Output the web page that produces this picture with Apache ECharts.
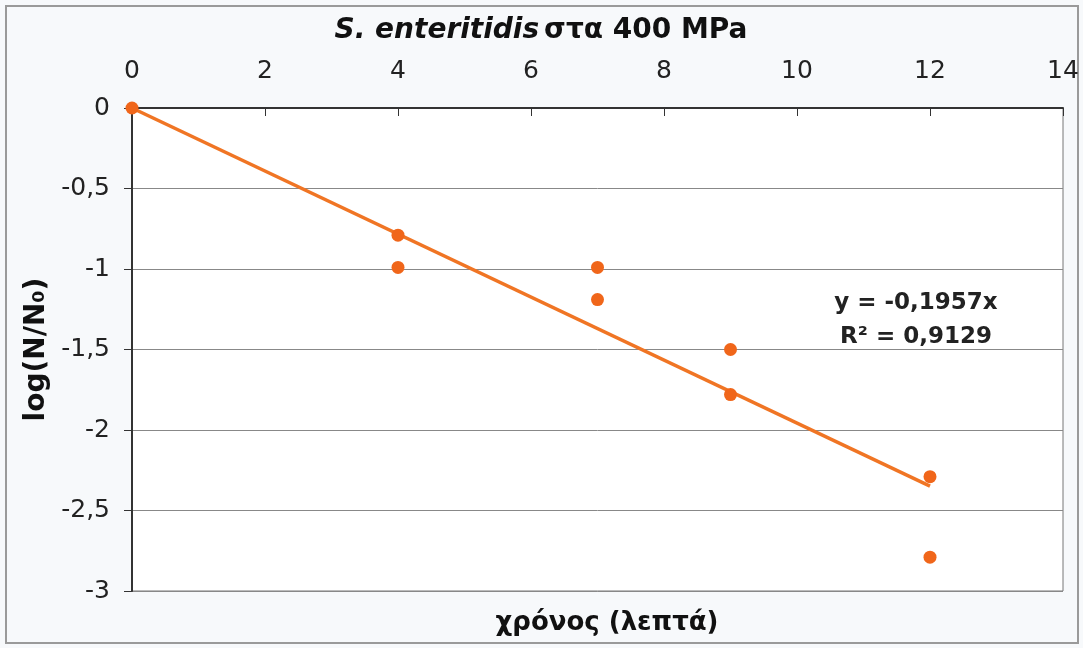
<!DOCTYPE html>
<html>
<head>
<meta charset="utf-8">
<script src="https://cdn.jsdelivr.net/npm/echarts@6/dist/echarts.min.js"></script>
<style>
  html, body { margin: 0; padding: 0; background: #f7f9fb; }
  #chart { width: 1083px; height: 648px; }
</style>
</head>
<body>
<div id="chart"></div>
<script>
// Survival measurements: time (min) vs log(N/N0)
const timeMin = [0, 4, 4, 7, 7, 9, 9, 12, 12];
const logRatio = [0, -0.79, -0.99, -0.99, -1.19, -1.50, -1.78, -2.29, -2.79];

// Linear trend through the origin
const slope = -0.1957;
const rSquared = 0.9129;
const trendX = [0, 12];

const xTicks = { min: 0, max: 14, interval: 2 };
const yTicks = { min: -3, max: 0, interval: 0.5 };

const font = 'DejaVu Sans';
const comma = v => String(v).replace('.', ',');

const chart = echarts.init(document.getElementById('chart'), null, { renderer: 'canvas' });

chart.setOption({
  backgroundColor: '#f7f9fb',
  animation: false,
  title: [
    {
      text: '{i|S. enteritidis} {b|στα 400 MPa}',
      left: 536, top: 12, textAlign: 'center',
      textStyle: {
        rich: {
          i: { fontFamily: font, fontSize: 28, fontWeight: 'bold', fontStyle: 'italic', color: '#111' },
          b: { fontFamily: font, fontSize: 28, fontWeight: 'bold', color: '#111' }
        }
      }
    },
    {
      text: 'χρόνος (λεπτά)',
      left: 602, top: 605, textAlign: 'center',
      textStyle: { fontFamily: font, fontSize: 26, fontWeight: 'bold', color: '#111' }
    },
    {
      text: 'y = ' + comma(slope) + 'x\nR² = ' + comma(rSquared),
      left: 911, top: 281, textAlign: 'center',
      textStyle: { fontFamily: font, fontSize: 23, fontWeight: 'bold', color: '#222', lineHeight: 34 }
    }
  ],
  grid: {
    left: 132, top: 108, right: 20, bottom: 57,
    show: true, backgroundColor: '#ffffff', borderColor: '#777', borderWidth: 1
  },
  xAxis: {
    type: 'value', position: 'top',
    min: xTicks.min, max: xTicks.max, interval: xTicks.interval,
    axisLine: { show: true, lineStyle: { color: '#333', width: 2 } },
    axisTick: { show: true, inside: true, length: 8, lineStyle: { color: '#333' } },
    axisLabel: { fontFamily: font, fontSize: 25, color: '#222', margin: 24 },
    splitLine: { show: false }
  },
  yAxis: {
    type: 'value',
    min: yTicks.min, max: yTicks.max, interval: yTicks.interval,
    name: 'log(N/N₀)', nameLocation: 'middle', nameGap: 80, nameRotate: 90,
    nameTextStyle: { fontFamily: font, fontSize: 28, fontWeight: 'bold', color: '#111', padding: [0, 0, 0, 0] },
    axisLine: { show: true, lineStyle: { color: '#333', width: 2 } },
    axisTick: { show: true, length: 8, lineStyle: { color: '#333' } },
    axisLabel: { fontFamily: font, fontSize: 25, color: '#222', margin: 22, formatter: v => comma(v) },
    splitLine: { show: true, lineStyle: { color: '#888', width: 1 } }
  },
  series: [
    {
      type: 'line',
      data: trendX.map(x => [x, slope * x]),
      symbol: 'none',
      lineStyle: { color: '#f07524', width: 3.5 },
      z: 2
    },
    {
      type: 'scatter',
      data: timeMin.map((t, i) => [t, logRatio[i]]),
      symbol: 'circle', symbolSize: 13,
      itemStyle: { color: '#f0661a', opacity: 1 },
      z: 3
    }
  ],
  graphic: [
    {
      type: 'rect', silent: true, z: -1,
      shape: { x: 6, y: 6, width: 1072, height: 637 },
      style: { fill: null, stroke: '#9a9a9a', lineWidth: 2 }
    }
  ]
});
</script>
</body>
</html>
